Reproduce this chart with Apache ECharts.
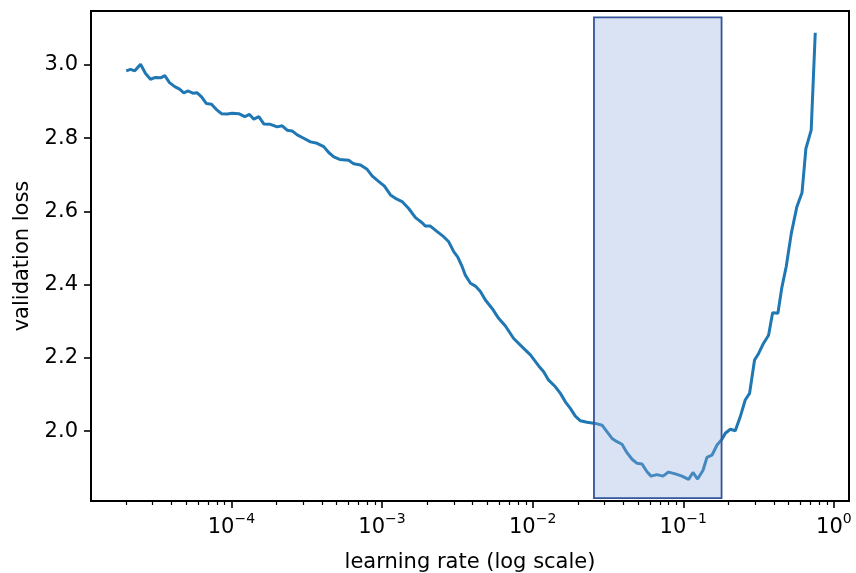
<!DOCTYPE html>
<html>
<head>
<meta charset="utf-8">
<script src="https://cdn.jsdelivr.net/npm/echarts@6/dist/echarts.min.js"></script>
<style>
  html, body { margin: 0; padding: 0; background: #fff; }
  #chart { width: 856px; height: 573px; }
</style>
</head>
<body>
<div id="chart"></div>
<script>
// learning rate as log10 exponent
const logLr = [
  -4.698, -4.670, -4.641, -4.603, -4.570, -4.537, -4.504, -4.470, -4.442, -4.411,
  -4.376, -4.344, -4.316, -4.287, -4.256, -4.227, -4.198, -4.167, -4.132, -4.101,
  -4.066, -4.028, -3.995, -3.951, -3.911, -3.880, -3.851, -3.818, -3.785, -3.741,
  -3.696, -3.663, -3.630, -3.597, -3.563, -3.520, -3.475, -3.431, -3.387, -3.354,
  -3.320, -3.281, -3.221, -3.188, -3.143, -3.099, -3.066, -3.029, -2.984, -2.944,
  -2.904, -2.867, -2.823, -2.778, -2.734, -2.712, -2.679, -2.634, -2.591, -2.557,
  -2.524, -2.498, -2.468, -2.447, -2.413, -2.380, -2.347, -2.314, -2.269, -2.226,
  -2.181, -2.126, -2.070, -2.015, -1.960, -1.927, -1.894, -1.849, -1.816, -1.783,
  -1.750, -1.717, -1.683, -1.639, -1.584, -1.539, -1.506, -1.473, -1.440, -1.407,
  -1.374, -1.340, -1.307, -1.274, -1.241, -1.214, -1.175, -1.135, -1.098, -1.053,
  -1.009, -0.965, -0.936, -0.905, -0.869, -0.843, -0.810, -0.776, -0.743, -0.721,
  -0.688, -0.655, -0.622, -0.589, -0.560, -0.527, -0.500, -0.467, -0.434, -0.407,
  -0.372, -0.345, -0.317, -0.283, -0.246, -0.212, -0.186, -0.151, -0.124
];
const loss = [
  2.984, 2.988, 2.984, 3.002, 2.977, 2.961, 2.966, 2.965, 2.971, 2.952,
  2.941, 2.934, 2.924, 2.929, 2.923, 2.924, 2.913, 2.895, 2.893, 2.879,
  2.867, 2.866, 2.868, 2.867, 2.859, 2.865, 2.852, 2.859, 2.839, 2.838,
  2.831, 2.834, 2.822, 2.820, 2.809, 2.800, 2.790, 2.786, 2.777, 2.761,
  2.749, 2.742, 2.740, 2.730, 2.727, 2.715, 2.697, 2.684, 2.669, 2.645,
  2.634, 2.627, 2.608, 2.583, 2.569, 2.560, 2.560, 2.545, 2.531, 2.517,
  2.490, 2.476, 2.449, 2.426, 2.404, 2.396, 2.381, 2.358, 2.335, 2.308,
  2.287, 2.253, 2.230, 2.208, 2.178, 2.162, 2.139, 2.121, 2.103, 2.080,
  2.062, 2.041, 2.028, 2.024, 2.021, 2.016, 1.998, 1.980, 1.971, 1.964,
  1.941, 1.923, 1.912, 1.910, 1.889, 1.877, 1.881, 1.877, 1.888, 1.883,
  1.877, 1.868, 1.887, 1.869, 1.893, 1.928, 1.934, 1.962, 1.978, 1.994,
  2.005, 2.001, 2.039, 2.085, 2.103, 2.194, 2.212, 2.240, 2.262, 2.323,
  2.322, 2.394, 2.449, 2.540, 2.613, 2.651, 2.772, 2.822, 3.088
];

const xMajorTicks = [-4, -3, -2, -1, 0];
const yTicks = [2.0, 2.2, 2.4, 2.6, 2.8, 3.0];
const highlightLogLr = [-1.593, -0.746];
const highlightLoss = [1.817, 3.130];

const xMin = -4.932;
const xMax = 0.100;

// minor ticks at 2..9 x 10^n, in log10 units
const xMinorTicks = [];
for (let n = -5; n <= 0; n += 1) {
  for (let k = 2; k <= 9; k += 1) {
    const v = n + Math.log10(k);
    if (v > xMin && v < xMax) xMinorTicks.push(v);
  }
}

const font = 'DejaVu Sans';
const fs = 21;
const chart = echarts.init(document.getElementById('chart'), null, { renderer: 'canvas' });

chart.setOption({
  animation: false,
  grid: {
    left: 91,
    right: 7,
    top: 11,
    bottom: 72,
    containLabel: false,
    outerBoundsMode: 'none',
    show: true,
    borderColor: '#000',
    borderWidth: 2,
    backgroundColor: 'transparent',
  },
  xAxis: [
    {
      type: 'value',
      min: xMin,
      max: xMax,
      name: 'learning rate (log scale)',
      nameLocation: 'middle',
      nameGap: 51,
      nameTextStyle: { fontFamily: font, fontSize: fs, color: '#000' },
      axisLine: { show: false, onZero: false },
      splitLine: { show: false },
      axisTick: {
        show: true,
        customValues: xMajorTicks,
        length: 7,
        lineStyle: { color: '#000', width: 1.6 },
      },
      axisLabel: {
        customValues: xMajorTicks,
        margin: 13,
        color: '#000',
        fontFamily: font,
        formatter(v) {
          const exp = Math.round(v);
          return '{b|10}{s|' + (exp < 0 ? '\u2212' + Math.abs(exp) : exp) + '}';
        },
        rich: {
          b: { fontFamily: font, fontSize: fs, color: '#000', lineHeight: 24, verticalAlign: 'bottom' },
          s: { fontFamily: font, fontSize: 14, color: '#000', lineHeight: 14, verticalAlign: 'bottom', padding: [0, 0, 12, 0] },
        },
      },
    },
    {
      type: 'value',
      min: xMin,
      max: xMax,
      position: 'bottom',
      axisLine: { show: false, onZero: false },
      splitLine: { show: false },
      axisLabel: { show: false },
      axisTick: {
        show: true,
        customValues: xMinorTicks,
        length: 4,
        lineStyle: { color: '#000', width: 1.2 },
      },
    },
  ],
  yAxis: {
    type: 'value',
    min: 1.809,
    max: 3.1475,
    name: 'validation loss',
    nameLocation: 'middle',
    nameGap: 58,
    nameTextStyle: { fontFamily: font, fontSize: fs, color: '#000' },
    axisLine: { show: false, onZero: false },
    splitLine: { show: false },
    axisTick: {
      show: true,
      customValues: yTicks,
      length: 7,
      lineStyle: { color: '#000', width: 1.6 },
    },
    axisLabel: {
      customValues: yTicks,
      margin: 13,
      color: '#000',
      fontFamily: font,
      fontSize: fs,
      formatter: (v) => v.toFixed(1),
    },
  },
  series: [
    {
      type: 'line',
      name: 'loss',
      data: logLr.map((x, i) => [x, loss[i]]),
      symbol: 'none',
      smooth: false,
      lineStyle: { color: '#1f77b4', width: 3 },
      z: 2,
    },
    {
      type: 'line',
      name: 'range',
      data: [],
      z: 3,
      silent: true,
      markArea: {
        silent: true,
        z: 5,
        itemStyle: {
          color: 'rgba(146, 173, 220, 0.34)',
          borderColor: '#34559a',
          borderWidth: 1.8,
        },
        data: [[
          { coord: [highlightLogLr[0], highlightLoss[1]] },
          { coord: [highlightLogLr[1], highlightLoss[0]] },
        ]],
      },
    },
  ],
});
</script>
</body>
</html>
